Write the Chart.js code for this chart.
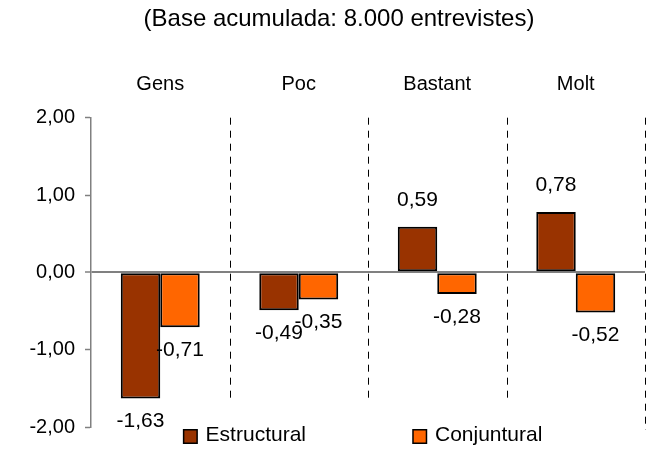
<!DOCTYPE html>
<html>
<head>
<meta charset="utf-8">
<script src="https://cdn.jsdelivr.net/npm/chart.js@4"></script>
<style>
  body { margin: 0; background: #fff; }
</style>
</head>
<body>
<canvas id="chart" width="652" height="449"></canvas>
<script>
const categories = ['Gens', 'Poc', 'Bastant', 'Molt'];
const estructural = [-1.63, -0.49, 0.59, 0.78];
const conjuntural = [-0.71, -0.35, -0.28, -0.52];
const seriesNames = ['Estructural', 'Conjuntural'];
const titleText = '(Base acumulada: 8.000 entrevistes)';

const fmt = v => v.toFixed(2).replace('.', ',');
const FONT = "'Liberation Sans', Arial, sans-serif";
Chart.defaults.font.family = FONT;
Chart.defaults.color = '#000';

// value labels above / below each bar
const valueLabels = {
  id: 'valueLabels',
  afterDatasetsDraw(chart) {
    const ctx = chart.ctx;
    ctx.save();
    ctx.font = '21px ' + FONT;
    ctx.fillStyle = '#000';
    ctx.textAlign = 'center';
    ctx.textBaseline = 'middle';
    chart.data.datasets.forEach((ds, i) => {
      chart.getDatasetMeta(i).data.forEach((bar, j) => {
        const v = ds.data[j];
        ctx.fillText(fmt(v), bar.x, bar.y + (v < 0 ? 23 : -27));
      });
    });
    ctx.restore();
  }
};

// dashed separators between categories
const separators = {
  id: 'separators',
  beforeDatasetsDraw(chart) {
    const {ctx, chartArea, scales: {x, y}} = chart;
    const half = (x.getPixelForValue(1) - x.getPixelForValue(0)) / 2;
    ctx.save();
    ctx.strokeStyle = '#000';
    ctx.lineWidth = 1;
    ctx.setLineDash([7, 6]);
    for (let i = 0; i < categories.length; i++) {
      const px = Math.round(x.getPixelForValue(i) + half) + 0.5;
      const end = i < categories.length - 1 ? y.getPixelForValue(-1.67) : chartArea.bottom + 3;
      ctx.beginPath();
      ctx.moveTo(px, chartArea.top);
      ctx.lineTo(px, end);
      ctx.stroke();
    }
    ctx.restore();
  }
};

// legend drawn under the plot
const bottomLegend = {
  id: 'bottomLegend',
  afterDraw(chart) {
    const {ctx, chartArea} = chart;
    ctx.save();
    ctx.font = '21px ' + FONT;
    ctx.textBaseline = 'middle';
    const box = 13.5, gapText = 8.5, gapItem = 107;
    const widths = chart.data.datasets.map(ds => box + gapText + ctx.measureText(ds.label).width);
    const total = widths.reduce((a, b) => a + b, 0) + gapItem * (widths.length - 1);
    let x = (chartArea.left + chartArea.right) / 2 - 5 - total / 2;
    const yc = chartArea.bottom + 9.5;
    chart.data.datasets.forEach((ds, i) => {
      ctx.fillStyle = ds.backgroundColor;
      ctx.fillRect(x, yc - box / 2, box, box);
      ctx.strokeStyle = '#000';
      ctx.lineWidth = 1.5;
      ctx.strokeRect(x, yc - box / 2, box, box);
      ctx.fillStyle = '#000';
      ctx.fillText(ds.label, x + box + gapText, yc - 1);
      x += widths[i] + gapItem;
    });
    ctx.restore();
  }
};

new Chart(document.getElementById('chart'), {
  type: 'bar',
  data: {
    labels: categories,
    datasets: [
      {
        label: seriesNames[0],
        data: estructural,
        backgroundColor: '#993300',
        borderColor: '#000',
        borderWidth: 2,
        borderSkipped: false
      },
      {
        label: seriesNames[1],
        data: conjuntural,
        backgroundColor: '#FF6600',
        borderColor: '#000',
        borderWidth: 2,
        borderSkipped: false
      }
    ]
  },
  options: {
    responsive: false,
    animation: false,
    categoryPercentage: 0.57,
    barPercentage: 1,
    layout: { padding: { left: 26, right: 0, top: 0, bottom: 21.3 } },
    plugins: {
      legend: { display: false },
      tooltip: { enabled: false },
      title: {
        display: true,
        text: titleText,
        font: { size: 24, weight: 'normal', lineHeight: 1.2 },
        color: '#000',
        padding: { top: 5, bottom: 38.9 }
      }
    },
    scales: {
      x: {
        position: 'top',
        afterFit(s) { s.height = 45; },
        grid: { display: false, drawTicks: false },
        border: { display: false },
        ticks: { font: { size: 20 }, color: '#000', padding: 21 }
      },
      y: {
        min: -2,
        max: 2,
        afterFit(s) { s.width = 65; },
        ticks: {
          stepSize: 1,
          font: { size: 20 },
          color: '#000',
          padding: 10,
          callback: v => fmt(v)
        },
        grid: {
          color: c => c.tick && c.tick.value === 0 ? '#808080' : 'rgba(0,0,0,0)',
          lineWidth: c => c.tick && c.tick.value === 0 ? 2 : 1,
          tickColor: '#808080',
          tickLength: 6,
          tickWidth: 1.5
        },
        border: { display: true, color: '#808080', width: 1.5 }
      },
      // empty strip on the right so the plot ends where the reference does
      yRight: {
        position: 'right',
        afterFit(s) { s.width = 7; },
        grid: { display: false, drawTicks: false },
        border: { display: false },
        ticks: { display: false }
      }
    }
  },
  plugins: [separators, valueLabels, bottomLegend]
});
</script>
</body>
</html>
